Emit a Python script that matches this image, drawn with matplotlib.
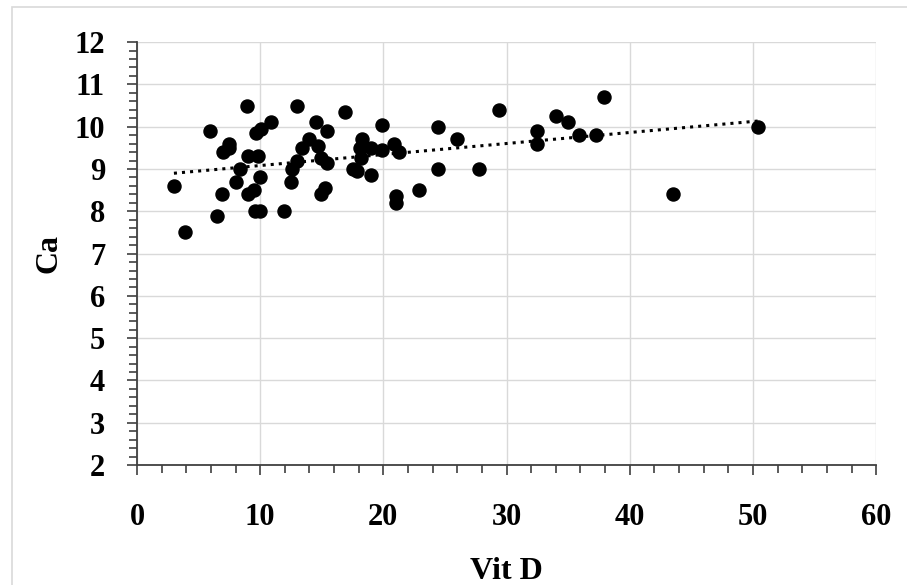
import numpy as np
import matplotlib
matplotlib.use("Agg")
import matplotlib.pyplot as plt
from matplotlib.patches import Rectangle
from matplotlib.ticker import MultipleLocator

# Vit D vs Ca scatter
vit_d = [3.0, 3.9, 5.9, 6.5, 6.9, 7.0, 7.5, 7.5, 8.0, 8.4, 8.9, 9.0, 9.0, 9.5, 9.7,
         9.6, 9.8, 10.0, 10.0, 10.1, 10.9, 11.9, 12.5, 12.6, 13.0, 13.0, 13.4, 14.0,
         14.5, 14.7, 14.9, 14.9, 15.3, 15.4, 15.4, 16.9, 17.5, 17.9, 18.1, 18.2, 18.3,
         19.0, 19.0, 19.9, 19.9, 20.9, 21.0, 21.0, 21.3, 22.9, 24.4, 24.4, 26.0, 27.8,
         29.4, 32.5, 32.5, 34.0, 35.0, 35.9, 37.3, 37.9, 43.5, 50.4]
ca = [8.6, 7.5, 9.9, 7.9, 8.4, 9.4, 9.5, 9.6, 8.7, 9.0, 10.5, 8.4, 9.3, 8.5, 9.85,
      8.0, 9.3, 8.0, 8.8, 9.95, 10.1, 8.0, 8.7, 9.0, 10.5, 9.2, 9.5, 9.7,
      10.1, 9.55, 9.25, 8.4, 8.55, 9.9, 9.15, 10.35, 9.0, 8.95, 9.5, 9.25, 9.7,
      9.5, 8.85, 10.05, 9.45, 9.6, 8.35, 8.2, 9.4, 8.5, 9.0, 10.0, 9.7, 9.0,
      10.4, 9.9, 9.6, 10.25, 10.1, 9.8, 9.8, 10.7, 8.4, 10.0]

plt.rcParams['font.family'] = ['Liberation Serif', 'DejaVu Serif']
plt.rcParams['font.weight'] = 'bold'

fig = plt.figure(figsize=(9.07, 5.85), dpi=100)
ax = fig.add_axes([0.151, 0.205, 0.815, 0.723])

ax.plot(vit_d, ca, 'o', color='black', markersize=9.4, zorder=3)

# linear trend line
k, b = np.polyfit(vit_d, ca, 1)
xs = np.array([min(vit_d), max(vit_d)])
ax.plot(xs, k*xs+b, ':', color='black', lw=2.2, zorder=2)

ax.set_xlim(0, 60)
ax.set_ylim(2, 12)
ax.xaxis.set_major_locator(MultipleLocator(10))
ax.xaxis.set_minor_locator(MultipleLocator(2))
ax.yaxis.set_major_locator(MultipleLocator(1))
ax.yaxis.set_minor_locator(MultipleLocator(0.2))
ax.grid(True, which='major', color='#d9d9d9', lw=1)
ax.set_axisbelow(True)

for s in ['top', 'right']:
    ax.spines[s].set_visible(False)
for s in ['left', 'bottom']:
    ax.spines[s].set_color('#404040')
    ax.spines[s].set_linewidth(1.3)

ax.tick_params(axis='both', which='both', direction='out', color='#404040', width=1.2)
ax.tick_params(axis='both', which='major', length=7, labelsize=22)
ax.tick_params(axis='both', which='minor', length=6)
ax.tick_params(axis='x', which='major', pad=20)
ax.tick_params(axis='y', which='major', pad=16)

ax.set_xlabel('Vit D', fontsize=23, fontweight='bold', labelpad=18)
ax.set_ylabel('Ca', fontsize=23, fontweight='bold', labelpad=8)

# chart frame, only top and left edges fall inside the picture
fig.patches.append(Rectangle((0.0132, -0.1), 1.2, 1.088, transform=fig.transFigure,
                             fill=False, edgecolor='#d9d9d9', lw=1.2))

fig.savefig('out.png', dpi=100)
